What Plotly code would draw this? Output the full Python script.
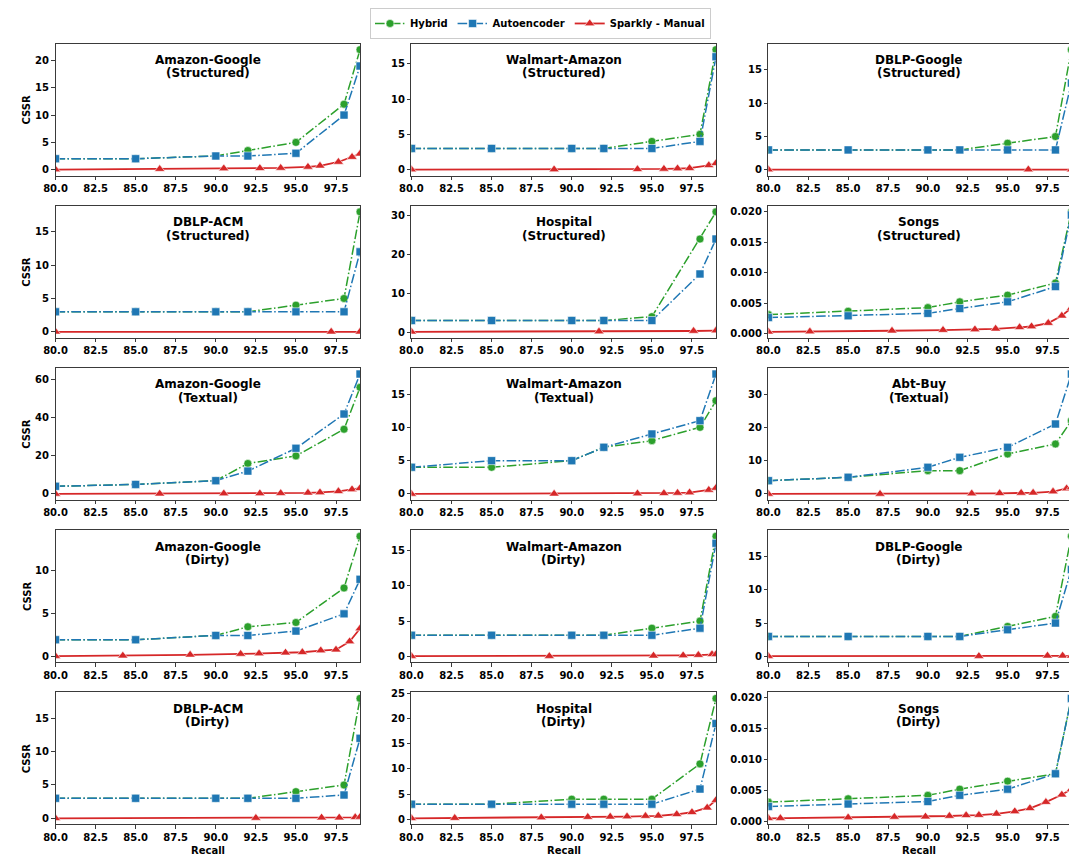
import plotly.graph_objects as go

# ---------------- data ----------------
RECALL = [80, 85, 90, 92, 95, 98, 99]
SERIES_NAMES = ["Hybrid", "Autoencoder", "Sparkly - Manual"]
X_TICKS = [80.0, 82.5, 85.0, 87.5, 90.0, 92.5, 95.0, 97.5]

# Row 1
ag_s_hybrid = [2, 2, 2.5, 3.5, 5, 12, 22]
ag_s_auto = [2, 2, 2.5, 2.5, 3, 10, 19]
ag_s_spx = [80, 86.5, 90.5, 92.75, 94.05, 95.75, 96.5, 97.65, 98.5, 99]
ag_s_spy = [0, 0.1, 0.2, 0.25, 0.3, 0.5, 0.7, 1.4, 2.3, 2.9]

wa_s_hybrid = [3, 3, 3, 3, 4, 5, 17]
wa_s_auto = [3, 3, 3, 3, 3, 4, 16]
wa_s_spx = [80, 88.9, 94.1, 95.75, 96.6, 97.35, 98.55, 99]
wa_s_spy = [0, 0.02, 0.05, 0.1, 0.15, 0.2, 0.6, 0.9]

dg_s_hybrid = [3, 3, 3, 3, 4, 5, 18]
dg_s_auto = [3, 3, 3, 3, 3, 3, 13]
dg_s_spx = [80, 96.3, 99]
dg_s_spy = [0.05, 0.05, 0.05]

# Row 2
da_s_hybrid = [3, 3, 3, 3, 4, 5, 18]
da_s_auto = [3, 3, 3, 3, 3, 3, 12]
da_s_spx = [80, 97.2, 99]
da_s_spy = [0, 0, 0]

ho_s_hybrid = [3, 3, 3, 3, 4, 24, 31]
ho_s_auto = [3, 3, 3, 3, 3, 15, 24]
ho_s_spx = [80, 91.7, 97.6, 99]
ho_s_spy = [0.1, 0.15, 0.3, 0.4]

so_s_hybrid = [0.0031, 0.00365, 0.00425, 0.0052, 0.0063, 0.0083, 0.020]
so_s_auto = [0.0026, 0.0029, 0.0033, 0.0041, 0.0052, 0.0077, 0.0195]
so_s_spx = [80, 82.6, 87.75, 90.95, 92.95, 94.25, 95.75, 96.5, 97.55, 98.4, 99]
so_s_spy = [0.00027, 0.0003, 0.00044, 0.00055, 0.00065, 0.00076, 0.001,
            0.00114, 0.0017, 0.0029, 0.0042]

# Row 3
ag_t_hybrid = [4, 5, 7, 16, 20, 34, 56]
ag_t_auto = [4, 5, 7, 12, 24, 42, 63]
ag_t_spx = [80, 86.5, 90.5, 92.75, 94.05, 95.75, 96.5, 97.65, 98.5, 99]
ag_t_spy = [0, 0.1, 0.2, 0.3, 0.4, 0.6, 0.8, 1.4, 2.4, 3.0]

wa_t_hybrid = [4, 4, 5, 7, 8, 10, 14]
wa_t_auto = [4, 5, 5, 7, 9, 11, 18]
wa_t_spx = [80, 88.9, 94.1, 95.75, 96.6, 97.35, 98.55, 99]
wa_t_spy = [0, 0.02, 0.05, 0.1, 0.15, 0.2, 0.6, 0.9]

ab_t_hybrid = [4, 5, 7, 7, 12, 15, 22]
ab_t_auto = [4, 5, 8, 11, 14, 21, 36]
ab_t_spx = [80, 87.0, 92.75, 94.5, 95.85, 96.6, 97.85, 98.7, 99]
ab_t_spy = [0, 0, 0.1, 0.2, 0.3, 0.35, 0.7, 1.6, 2.0]

# Row 4
ag_d_hybrid = [2, 2, 2.5, 3.5, 4, 8, 14]
ag_d_auto = [2, 2, 2.5, 2.5, 3, 5, 9]
ag_d_spx = [80, 84.2, 88.4, 91.55, 92.7, 94.35, 95.4, 96.55, 97.5, 98.35, 99]
ag_d_spy = [0.1, 0.15, 0.25, 0.35, 0.4, 0.5, 0.55, 0.75, 0.85, 1.8, 3.3]

wa_d_hybrid = [3, 3, 3, 3, 4, 5, 17]
wa_d_auto = [3, 3, 3, 3, 3, 4, 16]
wa_d_spx = [80, 88.6, 95.1, 96.95, 97.9, 98.75, 99]
wa_d_spy = [0.05, 0.05, 0.1, 0.15, 0.2, 0.3, 0.3]

dg_d_hybrid = [3, 3, 3, 3, 4.5, 6, 18]
dg_d_auto = [3, 3, 3, 3, 4, 5, 13]
dg_d_spx = [80, 93.2, 97.5, 98.45, 99]
dg_d_spy = [0.05, 0.05, 0.1, 0.1, 0.1]

# Row 5
da_d_hybrid = [3, 3, 3, 3, 4, 5, 18]
da_d_auto = [3, 3, 3, 3, 3, 3.5, 12]
da_d_spx = [80, 92.5, 96.6, 97.7, 98.7, 99]
da_d_spy = [0, 0.05, 0.1, 0.1, 0.15, 0.2]

ho_d_hybrid = [3, 3, 4, 4, 4, 11, 24]
ho_d_auto = [3, 3, 3, 3, 3, 6, 19]
ho_d_spx = [80, 82.7, 88.1, 91.0, 92.4, 93.45, 94.6, 95.4, 96.55, 97.5, 98.45, 99]
ho_d_spy = [0.2, 0.25, 0.35, 0.45, 0.5, 0.55, 0.65, 0.7, 1.0, 1.4, 2.3, 3.8]

so_d_hybrid = [0.0031, 0.00364, 0.0042, 0.0052, 0.0065, 0.0077, 0.0199]
so_d_auto = [0.0024, 0.0028, 0.0032, 0.0042, 0.0052, 0.0077, 0.0199]
so_d_spx = [80, 80.75, 85, 87.9, 89.85, 91.35, 92.4, 93.2, 94.3, 95.45, 96.4,
            97.4, 98.4, 99]
so_d_spy = [0.00048, 0.0005, 0.0006, 0.0007, 0.00075, 0.00085, 0.00096, 0.001,
            0.0012, 0.0016, 0.0021, 0.0031, 0.0043, 0.0052]

TITLES = ["Amazon-Google", "Walmart-Amazon", "DBLP-Google",
          "DBLP-ACM", "Hospital", "Songs",
          "Amazon-Google", "Walmart-Amazon", "Abt-Buy",
          "Amazon-Google", "Walmart-Amazon", "DBLP-Google",
          "DBLP-ACM", "Hospital", "Songs"]
SUBTITLES = ["(Structured)"] * 6 + ["(Textual)"] * 3 + ["(Dirty)"] * 6

PANELS = [
    (ag_s_hybrid, ag_s_auto, ag_s_spx, ag_s_spy),
    (wa_s_hybrid, wa_s_auto, wa_s_spx, wa_s_spy),
    (dg_s_hybrid, dg_s_auto, dg_s_spx, dg_s_spy),
    (da_s_hybrid, da_s_auto, da_s_spx, da_s_spy),
    (ho_s_hybrid, ho_s_auto, ho_s_spx, ho_s_spy),
    (so_s_hybrid, so_s_auto, so_s_spx, so_s_spy),
    (ag_t_hybrid, ag_t_auto, ag_t_spx, ag_t_spy),
    (wa_t_hybrid, wa_t_auto, wa_t_spx, wa_t_spy),
    (ab_t_hybrid, ab_t_auto, ab_t_spx, ab_t_spy),
    (ag_d_hybrid, ag_d_auto, ag_d_spx, ag_d_spy),
    (wa_d_hybrid, wa_d_auto, wa_d_spx, wa_d_spy),
    (dg_d_hybrid, dg_d_auto, dg_d_spx, dg_d_spy),
    (da_d_hybrid, da_d_auto, da_d_spx, da_d_spy),
    (ho_d_hybrid, ho_d_auto, ho_d_spx, ho_d_spy),
    (so_d_hybrid, so_d_auto, so_d_spx, so_d_spy),
]

# ---------------- style / layout ----------------
W, H = 1069, 863
GREEN, BLUE, RED = "#2ca02c", "#1f77b4", "#d62728"
DASHDOT = "9.6px,2.4px,1.5px,2.4px"
FONT = "DejaVu Sans"
SPINE = "#3a3a3a"
COL_PX = [(44, 352), (404, 712), (765, 1069)]
X_END = [99, 99, 98.85]
ROW_TOP = [39, 202.5, 366, 529.5, 693]
ROW_H = 133
Y_DTICK = [5, 5, 5, 5, 10, 0.005, 20, 5, 10, 5, 5, 5, 5, 5, 0.005]

fig = go.Figure()
layout = {}
annotations = []

for i, (hyb, ae, spx, spy) in enumerate(PANELS):
    r, c = divmod(i, 3)
    sfx = "" if i == 0 else str(i + 1)
    xa, ya = "x" + sfx, "y" + sfx
    first = i == 0
    edge = dict(color="rgba(255,255,255,0.55)", width=1)

    fig.add_trace(go.Scatter(
        x=RECALL, y=hyb, xaxis=xa, yaxis=ya, mode="lines+markers",
        name=SERIES_NAMES[0], legendgroup="h", showlegend=first,
        line=dict(color=GREEN, width=1.5, dash=DASHDOT),
        marker=dict(symbol="circle", size=8, color=GREEN, line=edge)))
    fig.add_trace(go.Scatter(
        x=RECALL, y=ae, xaxis=xa, yaxis=ya, mode="lines+markers",
        name=SERIES_NAMES[1], legendgroup="a", showlegend=first,
        line=dict(color=BLUE, width=1.5, dash=DASHDOT),
        marker=dict(symbol="square", size=8, color=BLUE, line=edge)))
    fig.add_trace(go.Scatter(
        x=spx, y=spy, xaxis=xa, yaxis=ya, mode="lines+markers",
        name=SERIES_NAMES[2], legendgroup="s", showlegend=first,
        line=dict(color=RED, width=1.8),
        marker=dict(symbol="triangle-up", size=9, color=RED, line=edge)))

    vals = list(hyb) + list(ae) + list(spy)
    lo, hi = min(vals), max(vals)
    pad = 0.05 * (hi - lo)
    x0, x1 = COL_PX[c]
    top = ROW_TOP[r]
    tickfont = dict(family=FONT, size=10, color="black", weight="bold")
    layout["xaxis" + sfx] = dict(
        domain=[x0 / W, x1 / W], range=[80, X_END[c]], anchor=ya,
        tickvals=X_TICKS, tickformat=".1f", showgrid=False, zeroline=False,
        showline=True, mirror=True, linecolor=SPINE, linewidth=1,
        ticks="outside", ticklen=3.5, tickwidth=1, tickcolor=SPINE,
        tickfont=tickfont)
    layout["yaxis" + sfx] = dict(
        domain=[1 - (top + ROW_H) / H, 1 - top / H], range=[lo - pad, hi + pad],
        anchor=xa, dtick=Y_DTICK[i], tick0=0,
        tickformat=".3f" if Y_DTICK[i] < 1 else "d",
        showgrid=False, zeroline=False, showline=True, mirror=(c != 2),
        linecolor=SPINE, linewidth=1, ticks="outside", ticklen=3.5,
        tickwidth=1, tickcolor=SPINE, tickfont=tickfont)

    xd, yd = xa + " domain", ya + " domain"
    for txt, off in ((TITLES[i], 16.5), (SUBTITLES[i], 30)):
        annotations.append(dict(
            text=txt, xref=xd, yref=yd, x=0.5, y=1 - off / ROW_H,
            xanchor="center", yanchor="middle", showarrow=False,
            font=dict(family=FONT, size=12, color="black", weight="bold")))
    if c == 0:
        annotations.append(dict(
            text="CSSR", xref="paper", yref=yd, x=15 / W, y=0.5,
            xanchor="center", yanchor="middle", textangle=-90, showarrow=False,
            font=dict(family=FONT, size=10, color="black", weight="bold")))
    if r == 4:
        annotations.append(dict(
            text="Recall", xref=xd, yref="paper", x=0.5, y=1 - 852 / H,
            xanchor="center", yanchor="middle", showarrow=False,
            font=dict(family=FONT, size=10, color="black", weight="bold")))

fig.update_layout(
    width=W, height=H, margin=dict(l=0, r=0, t=0, b=0),
    paper_bgcolor="white", plot_bgcolor="white",
    font=dict(family=FONT, size=10, color="black"),
    annotations=annotations,
    legend=dict(orientation="h", x=0.5, xanchor="center", y=1 - 3 / H,
                yanchor="top", bgcolor="white", bordercolor="#cccccc",
                borderwidth=1, itemwidth=30,
                font=dict(family=FONT, size=10, color="black", weight="bold")),
    **layout)

fig.write_html("out.html")
